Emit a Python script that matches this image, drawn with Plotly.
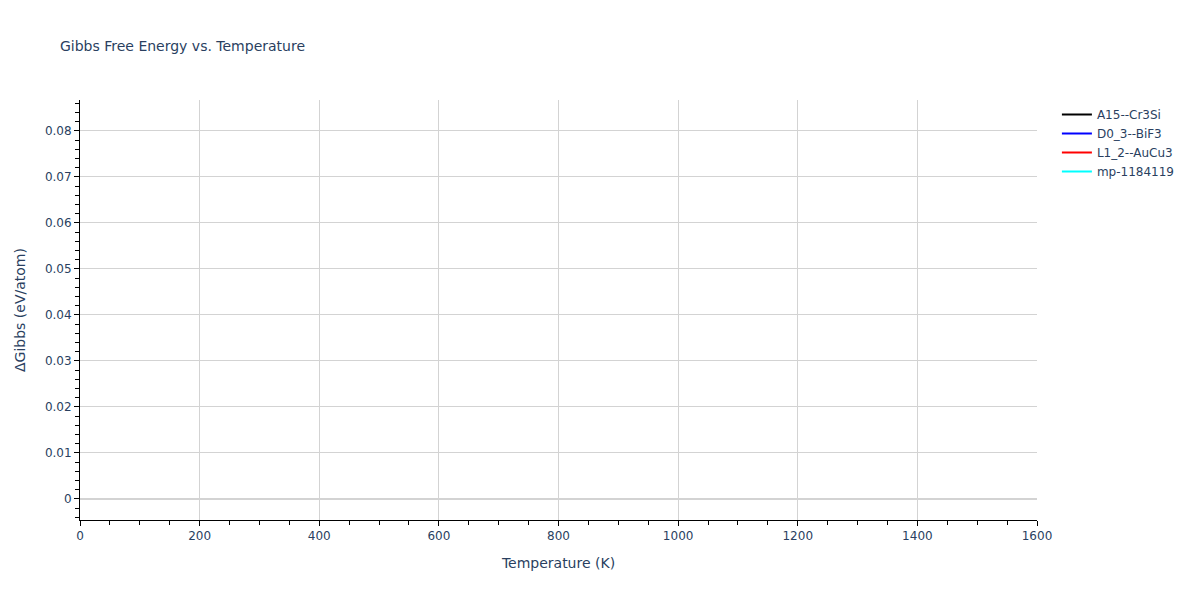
import plotly.graph_objects as go

# Series names from the legend; no line is visible inside the plotted range
series_names = ["A15--Cr3Si", "D0_3--BiF3", "L1_2--AuCu3", "mp-1184119"]
series_colors = ["black", "blue", "red", "cyan"]
temperature = [0, 1600]
gibbs_values = {
    "A15--Cr3Si": [None, None],
    "D0_3--BiF3": [None, None],
    "L1_2--AuCu3": [None, None],
    "mp-1184119": [None, None],
}

fig = go.Figure()
for name, color in zip(series_names, series_colors):
    fig.add_trace(go.Scatter(x=temperature, y=gibbs_values[name], mode="lines",
                             name=name, line=dict(color=color, width=2)))

fig.update_layout(
    template="plotly_white",
    font=dict(family="DejaVu Sans, Verdana, sans-serif"),
    title=dict(text="Gibbs Free Energy vs. Temperature", x=0.0439, y=0.943,
               font=dict(size=14)),
    margin=dict(l=72, r=149, t=92, b=72),
    showlegend=True,
    legend=dict(x=1.0208, y=1, font=dict(size=12),
                entrywidth=70, entrywidthmode="pixels"),
    xaxis=dict(title=dict(text="Temperature (K)"), range=[0, 1600],
               showline=True, linecolor="black", ticks="outside", tickcolor="black",
               dtick=200, minor=dict(ticks="outside", dtick=50, tickcolor="black", ticklen=4),
               showgrid=True, gridcolor="lightgrey", zeroline=False),
    yaxis=dict(title=dict(text="ΔGibbs (eV/atom)"), range=[-0.0046, 0.0867],
               showline=True, linecolor="black", ticks="outside", tickcolor="black",
               dtick=0.01, minor=dict(ticks="outside", dtick=0.002, tickcolor="black", ticklen=4),
               showgrid=True, gridcolor="lightgrey", zeroline=True,
               zerolinecolor="lightgrey", zerolinewidth=2),
)

fig.write_html("out.html")
